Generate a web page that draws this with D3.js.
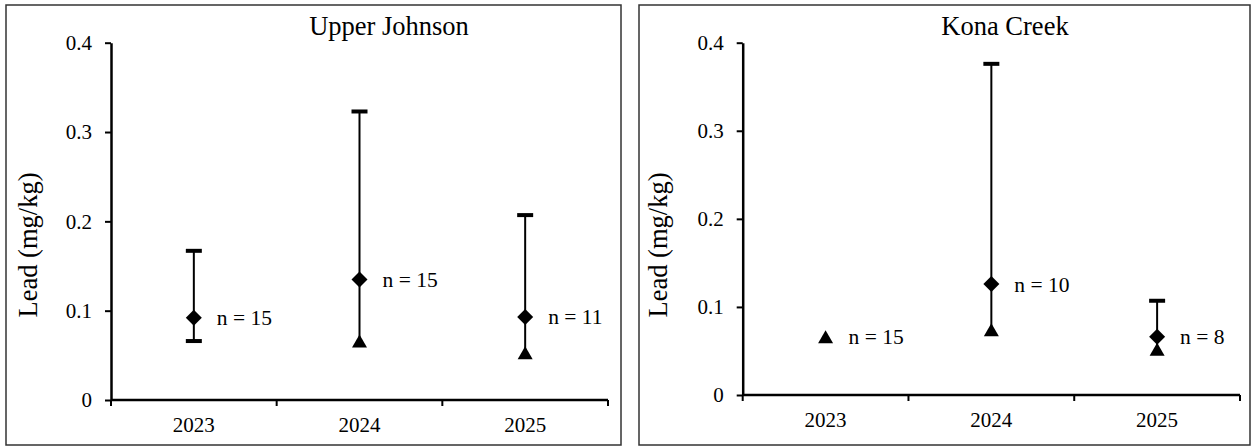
<!DOCTYPE html>
<html>
<head>
<meta charset="utf-8">
<script src="https://cdn.jsdelivr.net/npm/d3@7"></script>
<style>
  html, body { margin: 0; padding: 0; background: #fff; }
  svg { display: block; }
  text { font-family: "Liberation Serif", "Times New Roman", Times, serif; fill: #000; }
</style>
</head>
<body>
<svg id="chart" width="1253" height="447"></svg>
<script>
// Sampling years and y-axis ticks shared by both sites
const years = ["2023", "2024", "2025"];
const yTicks = [0, 0.1, 0.2, 0.3, 0.4];

// Upper Johnson: mean (diamond), maximum (upper cap), minimum (lower end), triangle marker, sample size
const ujMean = [0.092, 0.135, 0.093];
const ujMax  = [0.167, 0.323, 0.207];
const ujMin  = [0.066, 0.066, 0.053];
const ujTri  = [null, 0.066, 0.053];
const ujN    = [15, 15, 11];

// Kona Creek
const kcMean = [null, 0.126, 0.066];
const kcMax  = [null, 0.376, 0.107];
const kcMin  = [null, 0.074, 0.052];
const kcTri  = [0.066, 0.074, 0.052];
const kcN    = [15, 10, 8];

const FONT = '"Liberation Serif", "Times New Roman", Times, serif';
const svg = d3.select("#chart");

const panels = [
  { title: "Upper Johnson", mean: ujMean, max: ujMax, min: ujMin, tri: ujTri, n: ujN,
    frame: { x: 6, y: 5, w: 615, h: 440 }, x0: 111, x1: 608, yTop: 42.7, yBot: 400, titleX: 389, axisTitleX: 37 },
  { title: "Kona Creek", mean: kcMean, max: kcMax, min: kcMin, tri: kcTri, n: kcN,
    frame: { x: 639, y: 5, w: 611, h: 440 }, x0: 742.7, x1: 1240, yTop: 42.7, yBot: 395, titleX: 1005, axisTitleX: 667 }
];

// Triangle centred on its bounding box
function trianglePath(cx, cy, w, h) {
  const p = d3.path();
  p.moveTo(cx, cy - h / 2);
  p.lineTo(cx + w / 2, cy + h / 2);
  p.lineTo(cx - w / 2, cy + h / 2);
  p.closePath();
  return p.toString();
}

function diamondPath(cx, cy, r) {
  const p = d3.path();
  p.moveTo(cx, cy - r);
  p.lineTo(cx + r, cy);
  p.lineTo(cx, cy + r);
  p.lineTo(cx - r, cy);
  p.closePath();
  return p.toString();
}

panels.forEach(pn => {
  const g = svg.append("g");

  // panel frame
  g.append("rect")
    .attr("x", pn.frame.x).attr("y", pn.frame.y)
    .attr("width", pn.frame.w).attr("height", pn.frame.h)
    .attr("fill", "#fff").attr("stroke", "#333").attr("stroke-width", 1.5);

  const x = d3.scaleBand().domain(years).range([pn.x0, pn.x1]).padding(0);
  const y = d3.scaleLinear().domain([0, 0.4]).range([pn.yBot, pn.yTop]);

  // y axis
  const yAxis = g.append("g")
    .attr("transform", `translate(${pn.x0},0)`)
    .call(d3.axisLeft(y).tickValues(yTicks).tickFormat(d => d === 0 ? "0" : d3.format(".1f")(d))
      .tickSizeInner(6).tickSizeOuter(0).tickPadding(13));
  yAxis.attr("font-family", null);
  yAxis.select(".domain").attr("stroke", "#000").attr("stroke-width", 2.5);
  yAxis.selectAll(".tick line").attr("stroke", "#000").attr("stroke-width", 2);
  yAxis.selectAll(".tick text").style("font-family", FONT).style("font-size", "21px").attr("fill", "#000");

  // x axis with tick marks at the category boundaries
  const xAxisG = g.append("g").attr("transform", `translate(0,${pn.yBot})`);
  xAxisG.call(d3.axisBottom(x).tickSize(0).tickPadding(17));
  xAxisG.attr("font-family", null);
  xAxisG.select(".domain").attr("stroke", "#000").attr("stroke-width", 2.5)
    .attr("d", `M${pn.x0},0H${pn.x1}`);
  xAxisG.selectAll(".tick text").style("font-family", FONT).style("font-size", "21px").attr("fill", "#000");
  const bounds = years.map(d => x(d)).concat([pn.x1]);
  xAxisG.selectAll("line.bound").data(bounds).join("line")
    .attr("class", "bound")
    .attr("x1", d => d).attr("x2", d => d)
    .attr("y1", 0).attr("y2", 6)
    .attr("stroke", "#000").attr("stroke-width", 2);

  // title
  g.append("text")
    .attr("x", pn.titleX).attr("y", 35)
    .attr("text-anchor", "middle")
    .style("font-family", FONT).style("font-size", "26.5px")
    .text(pn.title);

  // y axis title
  g.append("text")
    .attr("transform", `translate(${pn.axisTitleX},${245}) rotate(-90)`)
    .attr("text-anchor", "middle")
    .style("font-family", FONT).style("font-size", "26.5px")
    .text("Lead (mg/kg)");

  const cx = d => x(years[d]) + x.bandwidth() / 2;
  const idx = d3.range(years.length);

  // vertical error lines
  g.selectAll("line.err").data(idx.filter(i => pn.max[i] != null)).join("line")
    .attr("class", "err")
    .attr("x1", cx).attr("x2", cx)
    .attr("y1", i => y(pn.max[i])).attr("y2", i => y(pn.min[i]))
    .attr("stroke", "#000").attr("stroke-width", 2);

  // upper caps
  g.selectAll("line.capTop").data(idx.filter(i => pn.max[i] != null)).join("line")
    .attr("class", "capTop")
    .attr("x1", i => cx(i) - 8).attr("x2", i => cx(i) + 8)
    .attr("y1", i => y(pn.max[i])).attr("y2", i => y(pn.max[i]))
    .attr("stroke", "#000").attr("stroke-width", 4);

  // lower caps where no triangle marker sits at the minimum
  g.selectAll("line.capBot").data(idx.filter(i => pn.min[i] != null && pn.tri[i] == null)).join("line")
    .attr("class", "capBot")
    .attr("x1", i => cx(i) - 8).attr("x2", i => cx(i) + 8)
    .attr("y1", i => y(pn.min[i])).attr("y2", i => y(pn.min[i]))
    .attr("stroke", "#000").attr("stroke-width", 4);

  // triangle markers
  g.selectAll("path.tri").data(idx.filter(i => pn.tri[i] != null)).join("path")
    .attr("class", "tri")
    .attr("d", i => trianglePath(cx(i), y(pn.tri[i]), 15, 13))
    .attr("fill", "#000");

  // diamond markers
  g.selectAll("path.dia").data(idx.filter(i => pn.mean[i] != null)).join("path")
    .attr("class", "dia")
    .attr("d", i => diamondPath(cx(i), y(pn.mean[i]), 8))
    .attr("fill", "#000");

  // sample size labels
  g.selectAll("text.n").data(idx).join("text")
    .attr("class", "n")
    .attr("x", i => cx(i) + 23)
    .attr("y", i => y(pn.mean[i] != null ? pn.mean[i] : pn.tri[i]) + 7.5)
    .style("font-family", FONT).style("font-size", "21.5px")
    .text(i => `n = ${pn.n[i]}`);
});
</script>
</body>
</html>
